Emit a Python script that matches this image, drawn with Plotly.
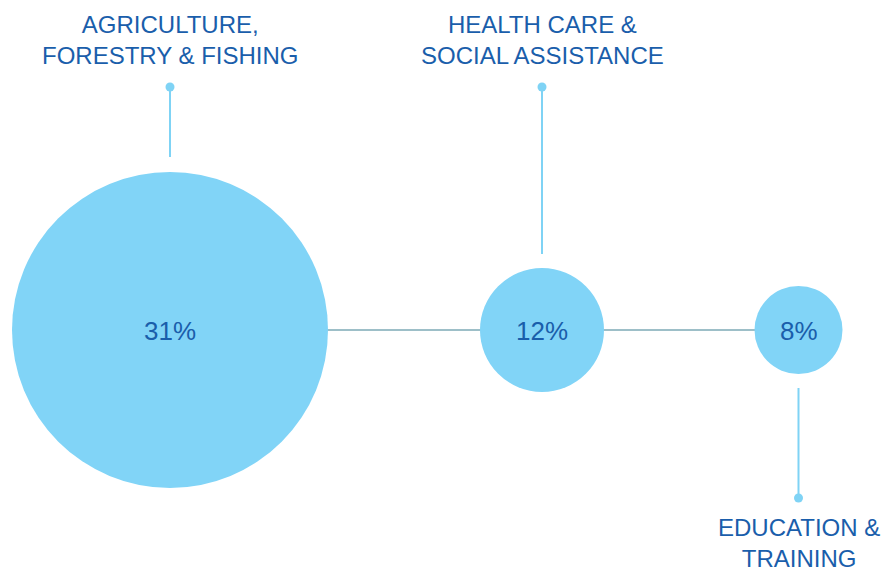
import plotly.graph_objects as go

# ---- data ----
categories = ["AGRICULTURE,<br>FORESTRY & FISHING", "HEALTH CARE &<br>SOCIAL ASSISTANCE", "EDUCATION &<br>TRAINING"]
values = [31, 12, 8]
value_labels = [f"{v}%" for v in values]

# ---- layout / styling (pixel space) ----
W, H = 881, 572
cx = [170, 542, 798.5]
cy = 330
radii = [158, 62, 44]
dot_y = [87, 87, 498]
line_end_y = [157, 254, 388]
label_y = [40, 40, 543]

CIRCLE = "#81D4F7"
TEXT = "#1A5EAB"
HLINE = "#9DBFC8"
CONNECT = "#7FD3F5"
FONT = "Liberation Sans, Arial, sans-serif"

fig = go.Figure()

# horizontal backbone line
fig.add_trace(go.Scatter(x=[cx[0], cx[-1]], y=[cy, cy], mode="lines",
                         line=dict(color=HLINE, width=2), hoverinfo="skip"))

# connectors
for i in range(len(values)):
    fig.add_trace(go.Scatter(x=[cx[i], cx[i]], y=[dot_y[i], line_end_y[i]], mode="lines",
                             line=dict(color=CONNECT, width=2), hoverinfo="skip"))
fig.add_trace(go.Scatter(x=cx, y=dot_y, mode="markers",
                         marker=dict(color=CONNECT, size=9, line=dict(width=0)), hoverinfo="skip"))

# bubbles
fig.add_trace(go.Scatter(x=cx, y=[cy] * len(values), mode="markers",
                         marker=dict(color=CIRCLE, size=[2 * r for r in radii], sizemode="diameter",
                                     line=dict(width=0), opacity=1),
                         hoverinfo="skip"))

# value labels
for i, t in enumerate(value_labels):
    fig.add_annotation(x=cx[i], y=cy, text=t, showarrow=False,
                       xanchor="center", yanchor="middle", yshift=-1,
                       font=dict(family=FONT, size=26, color=TEXT))

# category labels
for i, c in enumerate(categories):
    fig.add_annotation(x=cx[i], y=label_y[i], text=c, showarrow=False,
                       xanchor="center", yanchor="middle", align="center",
                       font=dict(family=FONT, size=24, color=TEXT))

fig.update_layout(
    width=W, height=H,
    margin=dict(l=0, r=0, t=0, b=0),
    paper_bgcolor="white", plot_bgcolor="white",
    showlegend=False,
    xaxis=dict(range=[0, W], visible=False, fixedrange=True),
    yaxis=dict(range=[H, 0], visible=False, fixedrange=True),
)

fig.write_html("out.html", config={"displayModeBar": False},
               post_script="document.body.style.margin='0';document.body.style.overflow='hidden';")
